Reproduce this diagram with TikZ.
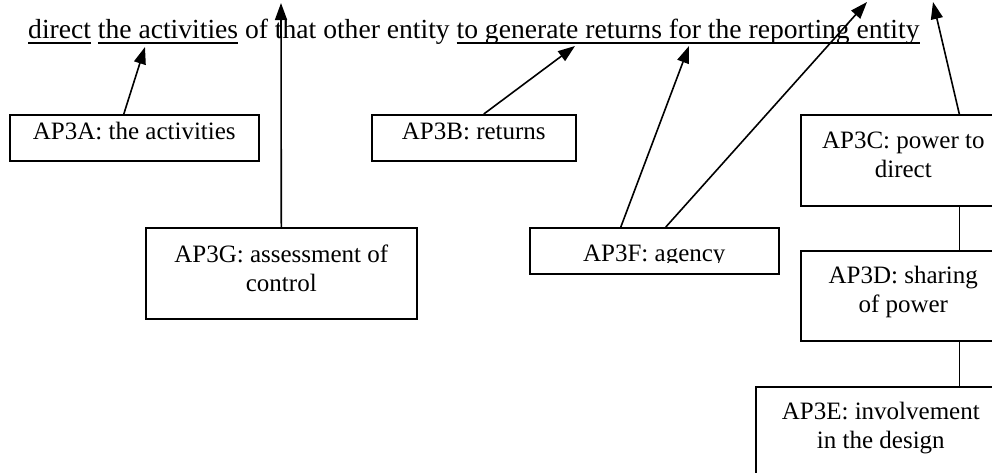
\documentclass[tikz,border=0pt]{standalone}
\usepackage{fontspec}
\setmainfont{Liberation Serif}
\usetikzlibrary{arrows.meta}
\definecolor{chartink}{HTML}{000000}
\definecolor{chartbg}{HTML}{FFFFFF}
\newsavebox{\marklinebox}
\newcommand{\markline}[1]{\sbox{\marklinebox}{#1}\rlap{\rule[-5pt]{\wd\marklinebox}{1.8pt}}\usebox{\marklinebox}}

\begin{document}
\begin{tikzpicture}[x=1pt, y=-1pt, line cap=butt, line join=miter,
    font=\fontsize{27.6}{29}\selectfont,
    box/.style={draw=chartink, line width=1.6pt, inner sep=0pt, align=flush center, anchor=north west,
      font=\fontsize{25}{29}\selectfont},
    link/.style={draw=chartink, line width=1.6pt},
    pointer/.style={link, -{Triangle[length=17pt,width=12pt]}}]
  % 画布（992 x 472，超出部分裁掉）
  \fill[chartbg] (0,0) rectangle (992,472);
  \clip (0,0) rectangle (992,472);

  % 顶部句子，三段带下划线
  \node[anchor=base west, inner sep=0pt] (sentence) at (28,38.5)
    {\markline{direct} \markline{the activities} of that other entity \markline{to generate returns for the reporting entity}};

  % 箭头终点
  \coordinate (tA)  at (145,47);
  \coordinate (tG)  at (281,3);
  \coordinate (tB)  at (575,46);
  \coordinate (tF1) at (689,46);
  \coordinate (tF2) at (867,2);
  \coordinate (tC)  at (933,2);

  % 方框（文字靠上）
  \node[box, text width=249pt, text height=25pt, text depth=21pt] (A) at (9,114)   {AP3A: the activities};
  \node[box, text width=204pt, text height=25pt, text depth=21pt] (B) at (371,114) {AP3B: returns};
  \node[box, text width=271pt, text height=35pt, text depth=56pt] (G) at (145,227) {AP3G: assessment of\\control};
  \node[box, text width=249pt, minimum height=46pt]               (F) at (529,227) {};
  \node[box, text width=205pt, text height=34pt, text depth=57pt] (C) at (800,114) {AP3C: power to\\direct};
  \node[box, text width=205pt, text height=33pt, text depth=57pt] (D) at (800,250) {AP3D: sharing\\of power};
  \node[box, text width=250pt, text height=33pt, text depth=90pt] (E) at (755,386) {AP3E: involvement\\in the design};

  % AP3F 的文字下缘被截掉
  \begin{scope}
    \clip (529,227) rectangle (778,262);
    \node[anchor=base, inner sep=0pt, font=\fontsize{25}{29}\selectfont] (Ftext) at ([yshift=-34pt]F.north) {AP3F: agency};
  \end{scope}

  % 指向句子的箭头
  \draw[pointer] ([xshift=-10.5pt]A.north) -- (tA);
  \draw[pointer] (G.north) -- (tG);
  \draw[pointer] ([xshift=10pt]B.north) -- (tB);
  \draw[pointer] ([xshift=-33.5pt]F.north) -- (tF1);
  \draw[pointer] ([xshift=11.5pt]F.north) -- (tF2);
  \draw[pointer] ([xshift=56pt]C.north) -- (tC);

  % 右侧竖向连线 C - D - E
  \coordinate (dlink) at ([xshift=56pt]D.south);
  \draw[link] ([xshift=56pt]C.south) -- ([xshift=56pt]D.north);
  \draw[link] (dlink) -- (dlink |- E.north);
\end{tikzpicture}
\end{document}
